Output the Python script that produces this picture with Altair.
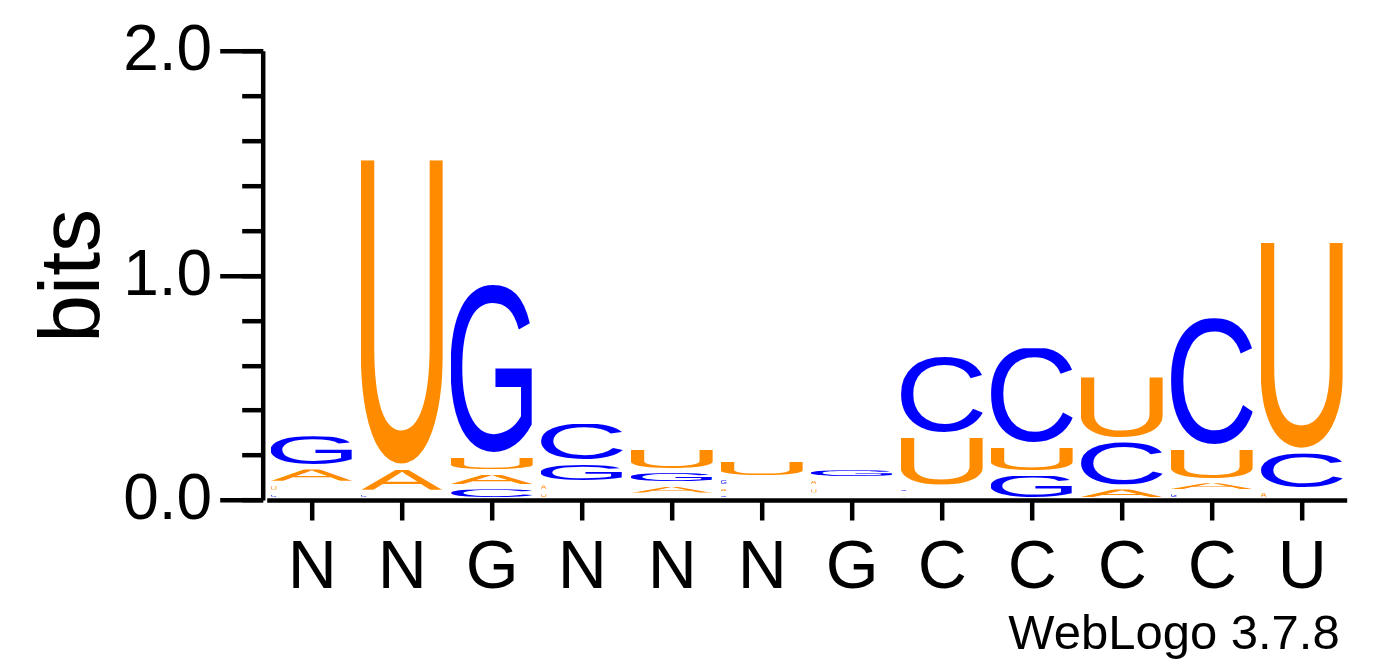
import base64
import json

import altair as alt
import pandas as pd

FONT = "Liberation Sans"

# consensus letters under each column
consensus = ["N", "N", "G", "N", "N", "N", "G", "C", "C", "C", "C", "U"]

# information (bits) carried by each base at each position
bits_A = [0.072, 0.113, 0.0652, 0.0392, 0.0518, 0.030, 0.0372, 0.0275, 0.0, 0.0579, 0.0483, 0.043]
bits_C = [0.034, 0.034, 0.0594, 0.1809, 0.022, 0.0285, 0.022, 0.3596, 0.4428, 0.2114, 0.5839, 0.1758]
bits_G = [0.148, 0.0, 0.7686, 0.0921, 0.0572, 0.0414, 0.0483, 0.029, 0.1188, 0.0, 0.0372, 0.0]
bits_U = [0.041, 1.377, 0.0748, 0.0372, 0.1024, 0.0801, 0.0365, 0.2328, 0.1246, 0.2906, 0.1504, 0.9372]

# base pairing colour scheme
colors = {"A": "#ff8c00", "U": "#ff8c00", "C": "#0000ff", "G": "#0000ff"}

# glyph boxes in font units (Liberation Sans, 2048 per em)
glyph_box = {
    "A": (-3, 0, 1369, 1409),
    "C": (100, -25, 1398, 1431),
    "G": (108, -25, 1456, 1431),
    "U": (158, -25, 1314, 1409),
}


def glyph_url(letter):
    x0, y0, x1, y1 = glyph_box[letter]
    svg = (
        "<svg xmlns='http://www.w3.org/2000/svg' width='100' height='100' "
        f"viewBox='{x0} {-y1} {x1 - x0} {y1 - y0}' preserveAspectRatio='none'>"
        f"<text x='0' y='0' font-family='Liberation Sans, Arial, sans-serif' "
        f"font-size='2048' fill='{colors[letter]}'>{letter}</text></svg>"
    )
    return "data:image/svg+xml;base64," + base64.b64encode(svg.encode()).decode()


# stack letters, smallest at the bottom (as WebLogo does)
rows = []
for i in range(len(consensus)):
    pos = i + 1
    stack = sorted(
        zip("ACGU", [bits_A[i], bits_C[i], bits_G[i], bits_U[i]]), key=lambda t: t[1]
    )
    base = 0.0
    for letter, h in stack:
        if h >= 0.025:
            narrow = h < 0.045
            rows.append(
                {
                    "pos": pos,
                    "letter": letter,
                    "bottom": base,
                    "top": base + h,
                    "left": pos - 0.455,
                    "right": pos - 0.39 if narrow else pos + 0.455,
                    "url": glyph_url(letter),
                }
            )
        base += h
df = pd.DataFrame(rows)

x_scale = alt.Scale(domain=[0.5, len(consensus) + 0.5], nice=False, zero=False)
y_scale = alt.Scale(domain=[0, 2], nice=False, zero=True)

x_axis = alt.Axis(
    values=list(range(1, len(consensus) + 1)),
    labelExpr=f"{json.dumps(consensus)}[datum.value - 1]",
    title=None,
    grid=False,
    domainColor="black",
    domainWidth=4.5,
    tickColor="black",
    tickWidth=4.5,
    tickSize=20,
    labelFont=FONT,
    labelFontSize=68,
    labelColor="black",
    labelPadding=14,
    labelFlush=False,
)

minor_axis = alt.Axis(
    orient="left",
    offset=4,
    values=[round(0.2 * k, 1) for k in range(11)],
    labels=False,
    grid=False,
    domainColor="black",
    domainWidth=4.5,
    tickColor="black",
    tickWidth=4.5,
    tickSize=21,
    title="bits",
    titleFont=FONT,
    titleFontSize=86,
    titleFontWeight="normal",
    titleColor="black",
    titlePadding=123,
)

major_axis = alt.Axis(
    orient="left",
    offset=4,
    values=[0, 1, 2],
    format=".1f",
    domain=False,
    grid=False,
    tickColor="black",
    tickWidth=4.5,
    tickSize=43,
    labelFont=FONT,
    labelFontSize=64,
    labelColor="black",
    labelPadding=8,
    labelFlush=False,
    title=None,
)

logo = alt.Chart(df).mark_image(aspect=False, yOffset=2.5, y2Offset=-2.5).encode(
    x=alt.X("left:Q", scale=x_scale, axis=x_axis),
    x2="right:Q",
    y=alt.Y("top:Q", scale=y_scale, axis=minor_axis),
    y2="bottom:Q",
    url="url:N",
)

major = alt.Chart(df).mark_point(opacity=0).encode(
    y=alt.Y("top:Q", scale=y_scale, axis=major_axis),
)

chart = (
    alt.layer(logo, major)
    .resolve_axis(y="independent")
    .properties(
        width=1080,
        height=449.3,
        autosize="none",
        padding={"left": 258.7, "top": 42.7, "right": 30, "bottom": 160},
        title=alt.Title(
            "WebLogo 3.7.8",
            orient="bottom",
            anchor="end",
            font=FONT,
            fontSize=49,
            fontWeight="normal",
            color="black",
            offset=8,
            dx=-7,
        ),
    )
    .configure_view(stroke=None)
)

chart.save("out.html", embed_options={"renderer": "svg", "actions": False})
